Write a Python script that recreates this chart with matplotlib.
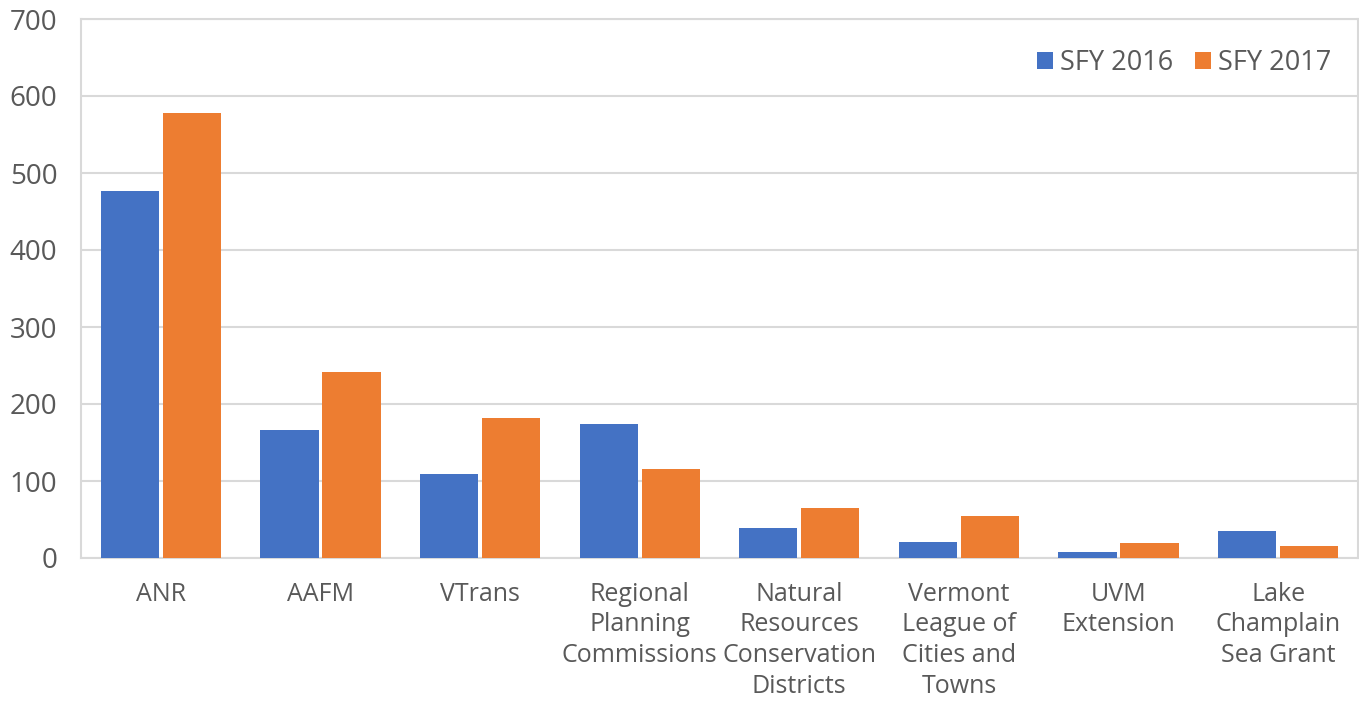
import matplotlib
matplotlib.use("Agg")
import matplotlib.pyplot as plt
import numpy as np

categories = ["ANR", "AAFM", "VTrans", "Regional\nPlanning\nCommissions",
              "Natural\nResources\nConservation\nDistricts",
              "Vermont\nLeague of\nCities and\nTowns", "UVM\nExtension",
              "Lake\nChamplain\nSea Grant"]
sfy2016 = [477, 166, 109, 174, 39, 21, 8, 35]
sfy2017 = [578, 242, 182, 116, 65, 55, 20, 16]
series_names = ["SFY 2016", "SFY 2017"]
yticks = [0, 100, 200, 300, 400, 500, 600, 700]

plt.rcParams['font.family'] = ['Open Sans', 'DejaVu Sans']
TXT = '#595959'
fig = plt.figure(figsize=(13.59, 7.01), dpi=100)
ax = fig.add_axes([81/1359, 1-558/701, (1358-81)/1359, (558-19)/701])

x = np.arange(len(categories))
w = 0.365
gap = 0.012
ax.bar(x - w/2 - gap, sfy2016, w, color='#4472C4', label=series_names[0], zorder=3)
ax.bar(x + w/2 + gap, sfy2017, w, color='#ED7D31', label=series_names[1], zorder=3)

ax.set_xlim(-0.5, len(categories) - 0.5)
ax.set_ylim(0, 700)
ax.set_yticks(yticks)
ax.set_yticklabels([str(v) for v in yticks], fontsize=20, color=TXT)
ax.set_xticks(x)
ax.set_xticklabels(categories, fontsize=18, color=TXT, linespacing=1.3)
ax.tick_params(axis='x', length=0, pad=17)
ax.tick_params(axis='y', length=0, pad=17)
ax.grid(axis='y', color='#D9D9D9', linewidth=1.5, zorder=0)
for s in ax.spines.values():
    s.set_color('#D9D9D9')
    s.set_linewidth(1.5)

leg = ax.legend(loc='upper right', bbox_to_anchor=(0.998, 0.99), ncol=2, frameon=False,
                fontsize=19.5, handlelength=0.6, handleheight=0.6, handletextpad=0.25,
                columnspacing=0.8)
for t in leg.get_texts():
    t.set_color(TXT)

fig.savefig('out.png', dpi=100)
